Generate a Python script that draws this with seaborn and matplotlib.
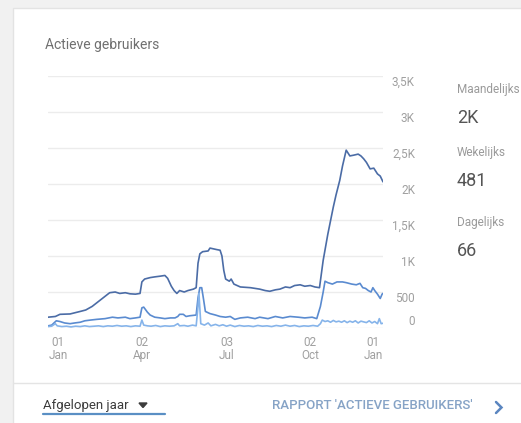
import numpy as np
import pandas as pd
import matplotlib
matplotlib.use('Agg')
import matplotlib.pyplot as plt
from matplotlib.patches import Rectangle, Polygon
from matplotlib.lines import Line2D
import seaborn as sns

# data (dag-offset vanaf begin van de periode, waarde) ========================
start = pd.Timestamp('2018-12-21')

maand_dag = [0, 8, 13, 24, 35, 41, 48, 54, 61, 67, 73, 78, 84, 89, 95, 100, 102, 105,
             111, 116, 122, 127, 130, 134, 137, 140, 143, 148, 152, 158, 161, 163, 165,
             168, 174, 176, 183, 187, 189, 191, 193, 197, 199, 202, 209, 220, 230, 236,
             241, 247, 252, 258, 263, 268, 274, 279, 285, 290, 295, 299, 304, 310, 313,
             317, 320, 324, 328, 332, 337, 340, 343, 346, 350, 354, 358, 361, 364]
maand_val = [150, 160, 190, 195, 230, 250, 300, 360, 430, 490, 500, 480, 490, 475, 470,
             480, 640, 680, 700, 710, 720, 730, 690, 580, 520, 480, 520, 500, 520, 540,
             560, 900, 1030, 1060, 1070, 1110, 1090, 1080, 1000, 800, 680, 650, 680, 610,
             570, 560, 540, 520, 510, 530, 540, 570, 560, 590, 600, 580, 590, 570, 560,
             940, 1300, 1680, 1850, 2050, 2250, 2470, 2390, 2400, 2415, 2390, 2350, 2300,
             2210, 2220, 2140, 2110, 2030]

week_dag = [0, 4, 9, 13, 18, 24, 29, 35, 40, 46, 53, 62, 70, 76, 84, 89, 95, 100, 102,
            104, 108, 111, 116, 122, 127, 133, 138, 141, 143, 147, 150, 154, 161, 163,
            165, 167, 169, 171, 176, 182, 187, 193, 198, 203, 209, 217, 225, 230, 239,
            247, 255, 263, 272, 279, 287, 292, 296, 299, 301, 304, 309, 314, 320, 324,
            330, 335, 339, 342, 345, 348, 351, 353, 355, 358, 361, 363, 364]
week_val = [30, 40, 100, 90, 70, 60, 70, 80, 100, 110, 120, 130, 150, 140, 150, 130, 140,
            150, 280, 290, 220, 180, 150, 140, 130, 140, 140, 160, 190, 190, 160, 170, 180,
            420, 560, 560, 400, 230, 200, 180, 160, 150, 160, 120, 140, 150, 130, 150, 130,
            160, 140, 160, 150, 140, 150, 130, 300, 500, 650, 630, 610, 640, 640, 630, 610,
            600, 620, 560, 550, 520, 500, 560, 520, 470, 410, 470, 481]

dag_dag = [0, 4, 8, 10, 15, 20, 25, 30, 35, 40, 45, 50, 55, 60, 65, 70, 75, 80, 85, 90,
           95, 100, 102, 104, 108, 112, 117, 122, 127, 132, 137, 141, 143, 148, 152, 157,
           161, 163, 164, 166, 170, 174, 177, 182, 186, 190, 194, 198, 203, 208, 213, 218,
           223, 228, 233, 238, 243, 248, 253, 258, 263, 268, 273, 278, 283, 288, 293, 296,
           298, 301, 304, 307, 310, 313, 316, 319, 322, 325, 328, 331, 334, 337, 340, 343,
           346, 349, 352, 355, 358, 360, 362, 364]
dag_val = [20, 25, 60, 30, 20, 25, 15, 25, 20, 30, 20, 25, 30, 20, 30, 25, 35, 25, 30, 20,
           30, 25, 110, 40, 30, 25, 35, 20, 30, 25, 30, 60, 30, 35, 25, 40, 30, 300, 480,
           60, 40, 70, 30, 50, 30, 45, 25, 40, 20, 35, 25, 30, 20, 35, 25, 30, 20, 35, 25,
           40, 25, 35, 20, 30, 25, 35, 25, 60, 110, 90, 100, 80, 105, 85, 95, 80, 100, 75,
           95, 80, 100, 70, 95, 85, 75, 100, 70, 90, 60, 130, 60, 66]

y_ticks = [0, 500, 1000, 1500, 2000, 2500, 3000, 3500]
y_labels = ['0', '500', '1K', '1,5K', '2K', '2,5K', '3K', '3,5K']
x_ticks = [pd.Timestamp('2019-01-01'), pd.Timestamp('2019-04-02'),
           pd.Timestamp('2019-07-03'), pd.Timestamp('2019-10-02'),
           start + pd.Timedelta(days=364)]
x_labels = ['01\nJan', '02\nApr', '03\nJul', '02\nOct', '01\nJan']

kpi_namen = ['Maandelijks', 'Wekelijks', 'Dagelijks']
kpi_waarden = ['2K', '481', '66']


def naar_df(dagen, waarden, naam):
    return pd.DataFrame({'datum': start + pd.to_timedelta(dagen, unit='D'),
                         'gebruikers': waarden, 'reeks': naam})


df = pd.concat([naar_df(maand_dag, maand_val, 'Maandelijks'),
                naar_df(week_dag, week_val, 'Wekelijks'),
                naar_df(dag_dag, dag_val, 'Dagelijks')], ignore_index=True)

kleuren = {'Maandelijks': '#4b6ca6', 'Wekelijks': '#5a8bd0', 'Dagelijks': '#86b4ea'}

# figuur ======================================================================
sns.set_style('white')
plt.rcParams['font.family'] = ['Roboto', 'DejaVu Sans']

W, H = 521, 423
fig = plt.figure(figsize=(W / 100, H / 100), dpi=100)
fig.patch.set_facecolor('#f1f1f1')


def fx(x):
    return x / W


def fy(y):
    return 1 - y / H


# witte kaart (achter de axes)
fig.patches.append(Rectangle((fx(13), -0.01), 1, 1.01 - 8 / H, transform=fig.transFigure,
                             facecolor='white', edgecolor='#e3e3e3', lw=1, zorder=-2))
fig.lines.append(Line2D([fx(13), 1], [fy(383), fy(383)], transform=fig.transFigure,
                        color='#e4e4e4', lw=1, zorder=-1))

ax = fig.add_axes([fx(48), fy(328), (383 - 48) / W, (328 - 76) / H])
ax.set_facecolor('none')
sns.lineplot(data=df, x='datum', y='gebruikers', hue='reeks', palette=kleuren,
             linewidth=1.2, legend=False, ax=ax, zorder=3)

ax.set_xlim(start, start + pd.Timedelta(days=364))
ax.set_ylim(0, 3500)
sns.despine(ax=ax, left=True, bottom=True, right=True, top=True)
ax.grid(axis='y', color='#ececec', lw=1)
ax.grid(axis='x', visible=False)
ax.set_xlabel('')
ax.set_ylabel('')

ax.yaxis.tick_right()
ax.set_yticks(y_ticks)
ax.set_yticklabels(y_labels)
ax.tick_params(axis='y', length=0, pad=23, labelsize=8.5, labelcolor='#a0a0a0')
for lab, v in zip(ax.get_yticklabels(), y_ticks):
    lab.set_ha('right')
    lab.set_va('bottom' if v == 0 else 'top')

ax.set_xticks(x_ticks)
ax.set_xticklabels(x_labels, linespacing=1.0)
ax.tick_params(axis='x', length=0, pad=6, labelsize=8.5, labelcolor='#a0a0a0')
laatste = ax.get_xticklabels()[-1]
laatste.set_ha('right')
laatste.set_multialignment('center')

# teksten =====================================================================
fig.text(fx(45), fy(45), 'Actieve gebruikers', fontsize=10, color='#707070',
         va='center', ha='left')

kpi_y = [(89, 118), (152, 181), (222, 251)]
for naam, waarde, (y1, y2) in zip(kpi_namen, kpi_waarden, kpi_y):
    fig.text(fx(457), fy(y1), naam, fontsize=8.5, color='#9a9a9a', va='center')
    fig.text(fx(457), fy(y2), waarde, fontsize=13, color='#555555', va='center')

fig.text(fx(43), fy(405), 'Afgelopen jaar', fontsize=9.5, color='#3c3c3c', va='center')
# dropdown-driehoekje en onderstreping
fig.patches.append(Polygon([(fx(139), fy(403)), (fx(147), fy(403)), (fx(143), fy(407.5))],
                           closed=True, transform=fig.transFigure, color='#3c3c3c'))
fig.lines.append(Line2D([fx(43), fx(165)], [fy(413.5), fy(413.5)],
                        transform=fig.transFigure, color='#5a8fc4', lw=1.6))

fig.text(fx(272), fy(405), "RAPPORT 'ACTIEVE GEBRUIKERS'", fontsize=9.5,
         fontweight='medium', color='#86a3c6', va='center')
fig.lines.append(Line2D([fx(496), fx(501.5), fx(496)], [fy(402), fy(407.5), fy(413)],
                        transform=fig.transFigure, color='#5b86c0', lw=1.8,
                        solid_joinstyle='miter'))

fig.savefig('out.png', dpi=100, facecolor=fig.get_facecolor())
